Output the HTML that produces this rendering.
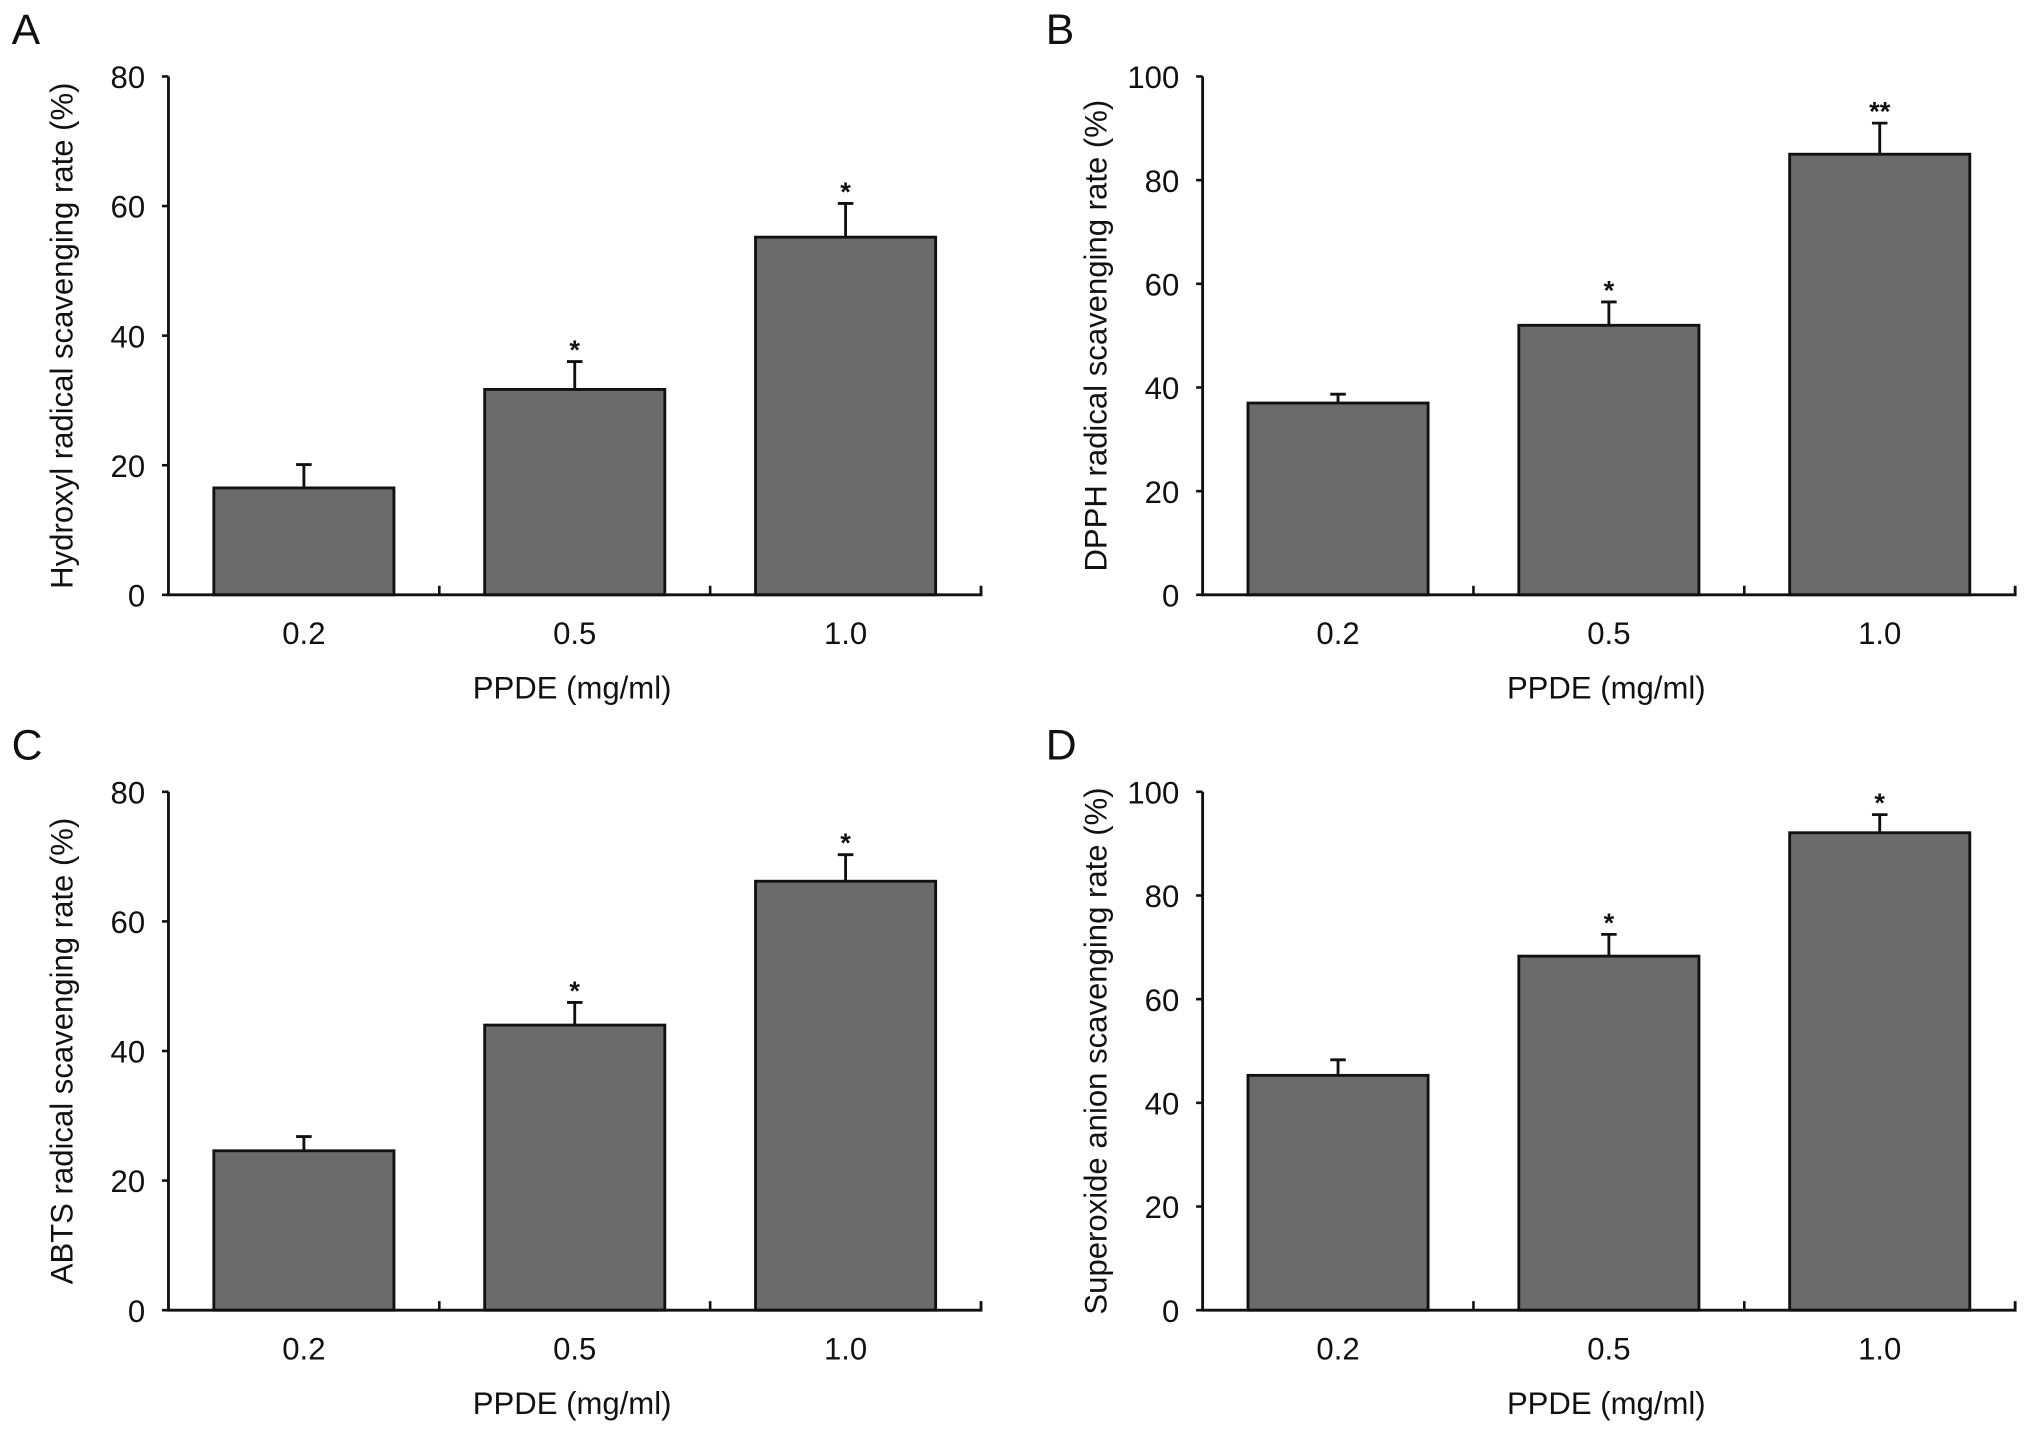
<!DOCTYPE html>
<html><head><meta charset="utf-8"><style>
html,body{margin:0;padding:0;background:#fff;}
svg{display:block;}
text{font-family:"Liberation Sans",sans-serif;fill:#111;}
</style></head><body>
<svg id="fig" width="2032" height="1432" viewBox="0 0 1568 1105" preserveAspectRatio="none" xmlns="http://www.w3.org/2000/svg"></svg>
<script>
const categories = ["0.2","0.5","1.0"];
const valuesA = [16.5, 31.7, 55.2];
const errorsA = [3.6, 4.3, 5.2];
const starsA = ["", "*", "*"];
const valuesB = [37.0, 52.0, 85.0];
const errorsB = [1.7, 4.5, 6.0];
const starsB = ["", "*", "**"];
const valuesC = [24.6, 44.0, 66.2];
const errorsC = [2.2, 3.5, 4.1];
const starsC = ["", "*", "*"];
const valuesD = [45.3, 68.3, 92.1];
const errorsD = [3.0, 4.2, 3.5];
const starsD = ["", "*", "*"];
const ticksA = [0,20,40,60,80];
const ticksB = [0,20,40,60,80,100];
const ticksC = [0,20,40,60,80];
const ticksD = [0,20,40,60,80,100];

const NS = "http://www.w3.org/2000/svg";
const svg = document.getElementById('fig');
function mk(tag, attrs, parent, txt){
  const e = document.createElementNS(NS, tag);
  for (const k in attrs) e.setAttribute(k, attrs[k]);
  if (txt !== undefined) e.textContent = txt;
  parent.appendChild(e);
  return e;
}
function panel(id, letter, ox, oy, values, errors, stars, ticks, ymax, title){
  const g = mk('g', {}, svg);
  
  
  const x0 = ox, x1 = ox + 627, yTop = oy, yBot = oy + 400;
  const yS = v => yBot - v / ymax * (yBot - yTop);
  const catW = (x1 - x0) / categories.length;
  const xC = i => x0 + catW * (i + 0.5);
  const bw = 139;
  const L = mk('text', {x: ox - 121, y: oy - 25, 'font-size': 33}, g, letter);
  
  
  categories.forEach((c, i) => {
    const r = mk('rect', {x: xC(i) - bw/2, y: yS(values[i]), width: bw, height: yBot - yS(values[i]), fill: '#6b6b6b', stroke: '#111', 'stroke-width': 2.2}, g);
    
    
    const top = yS(values[i] + errors[i]);
    const eb = mk('path', {d: `M${xC(i)},${yS(values[i])}V${top}M${xC(i)-6},${top}H${xC(i)+6}`, stroke: '#111', 'stroke-width': 2.2, fill: 'none'}, g);
    
    
    if (stars[i]) {
      const s = mk('text', {x: xC(i), y: top - 2, 'font-size': 21, 'text-anchor': 'middle', 'font-weight': 'bold'}, g, stars[i]);
      
      
    }
    const t = mk('text', {x: xC(i), y: yBot + 38, 'font-size': 24, 'text-anchor': 'middle'}, g, c);
    
    
    if (i > 0) {
      const tk = mk('line', {x1: x0 + catW*i, x2: x0 + catW*i, y1: yBot, y2: yBot - 7, stroke: '#111', 'stroke-width': 2}, g);
      
      
    }
  });
  const ax = mk('path', {d: `M${x0},${yTop}V${yBot}H${x1}V${yBot-7}`, stroke: '#111', 'stroke-width': 2.2, fill: 'none'}, g);
  
  
  ticks.forEach(v => {
    const tk = mk('line', {x1: x0 - 5, x2: x0, y1: yS(v), y2: yS(v), stroke: '#111', 'stroke-width': 2}, g);
    
    
    const t = mk('text', {x: x0 - 18, y: yS(v) + 9, 'font-size': 24, 'text-anchor': 'end'}, g, String(v));
    
    
  });
  const yt = mk('text', {x: 0, y: 0, 'font-size': 24, 'text-anchor': 'middle', transform: `translate(${x0 - 74},${(yTop+yBot)/2}) rotate(-90)`}, g, title);
  
  
  const xt = mk('text', {x: (x0+x1)/2 - 2, y: yBot + 80, 'font-size': 24, 'text-anchor': 'middle'}, g, 'PPDE (mg/ml)');
  
  
}
panel('a', 'A', 130, 59, valuesA, errorsA, starsA, ticksA, 80, 'Hydroxyl radical scavenging rate (%)');
panel('b', 'B', 928, 59, valuesB, errorsB, starsB, ticksB, 100, 'DPPH radical scavenging rate (%)');
panel('c', 'C', 130, 611, valuesC, errorsC, starsC, ticksC, 80, 'ABTS radical scavenging rate (%)');
panel('d', 'D', 928, 611, valuesD, errorsD, starsD, ticksD, 100, 'Superoxide anion scavenging rate (%)');
</script>
</body></html>
